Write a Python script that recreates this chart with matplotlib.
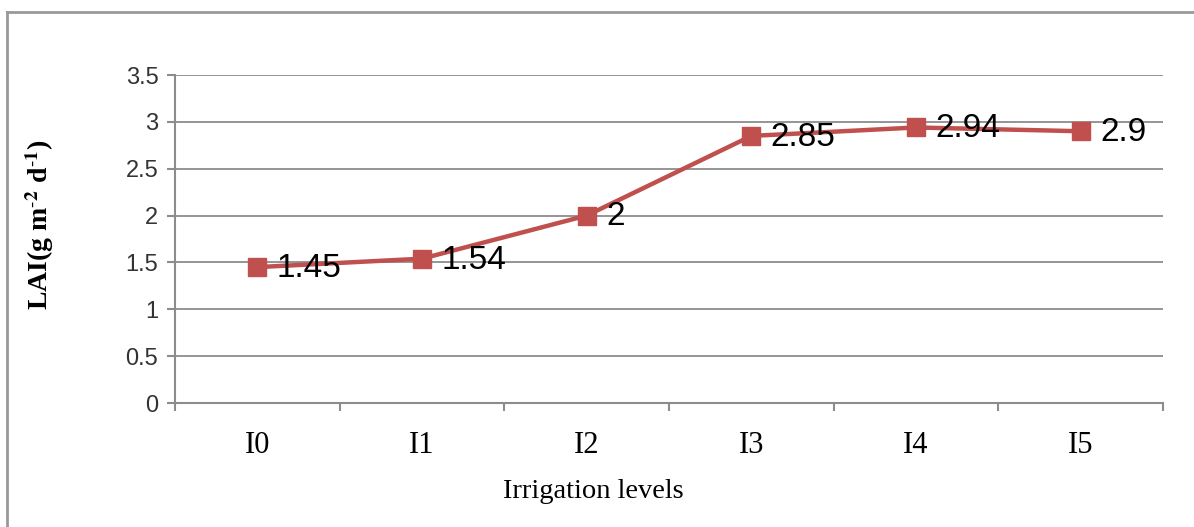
import matplotlib
matplotlib.use("Agg")
import matplotlib.pyplot as plt
from matplotlib.lines import Line2D

categories = ["I0", "I1", "I2", "I3", "I4", "I5"]
lai_values = [1.45, 1.54, 2.0, 2.85, 2.94, 2.9]
value_labels = ["1.45", "1.54", "2", "2.85", "2.94", "2.9"]
y_ticks = [0, 0.5, 1, 1.5, 2, 2.5, 3, 3.5]
y_tick_labels = ["0", "0.5", "1", "1.5", "2", "2.5", "3", "3.5"]

plt.rcParams["mathtext.fontset"] = "stix"

W, H = 1194, 527
fig = plt.figure(figsize=(W / 100, H / 100), dpi=100)
ax = fig.add_axes([175 / W, 1 - 403 / H, (1163 - 175) / W, (403 - 75) / H])

grid_c = "#8c8c8c"
x = list(range(len(categories)))
ax.plot(x, lai_values, color="#C0504D", lw=3.2, marker="s", ms=13,
        markeredgecolor="#C0504D", markerfacecolor="#C0504D", zorder=3,
        solid_joinstyle="round")

for xi, yi, lab in zip(x, lai_values, value_labels):
    ax.annotate(lab, (xi, yi), xytext=(14, -1), textcoords="offset points",
                ha="left", va="center", fontsize=24, family="Liberation Sans",
                color="black", zorder=4)

ax.set_xlim(-0.5, len(categories) - 0.5)
ax.set_ylim(0, 3.5)
ax.set_yticks(y_ticks)
ax.set_yticklabels(y_tick_labels, family="Liberation Sans", fontsize=17, color="#333333")
ax.set_xticks(x)
ax.set_xticklabels(categories, family="Liberation Serif", fontsize=22)
ax.set_xticks([i - 0.5 for i in range(len(categories) + 1)], minor=True)
ax.tick_params(axis="x", which="major", length=0, pad=20)
ax.tick_params(axis="x", which="minor", length=6, width=1.5, color=grid_c, direction="out")
ax.tick_params(axis="y", length=6, width=1.5, color=grid_c, direction="out", pad=6)

ax.yaxis.grid(True, color=grid_c, lw=1.3)
ax.set_axisbelow(True)
for s in ["top", "right"]:
    ax.spines[s].set_visible(False)
for s in ["left", "bottom"]:
    ax.spines[s].set_color(grid_c)
    ax.spines[s].set_linewidth(1.5)

fig.text(593 / W, 1 - 491 / H, "Irrigation levels", ha="center", va="center",
         family="Liberation Serif", fontsize=20.5)
fig.text(40 / W, 1 - 225 / H,
         r"LAI(g m$^{\text{-}\mathbf{2}}$ d$^{\text{-}\mathbf{1}}$)",
         rotation=90, ha="center", va="center", family="Liberation Serif",
         fontsize=20, fontweight="bold")

# outer chart-area border (left and top visible)
fig.add_artist(Line2D([7 / W, 7 / W], [0, 1 - 12 / H], transform=fig.transFigure,
                      color="#999999", lw=2))
fig.add_artist(Line2D([7 / W, 1], [1 - 12 / H, 1 - 12 / H], transform=fig.transFigure,
                      color="#999999", lw=2))

fig.savefig("out.png", dpi=100)
